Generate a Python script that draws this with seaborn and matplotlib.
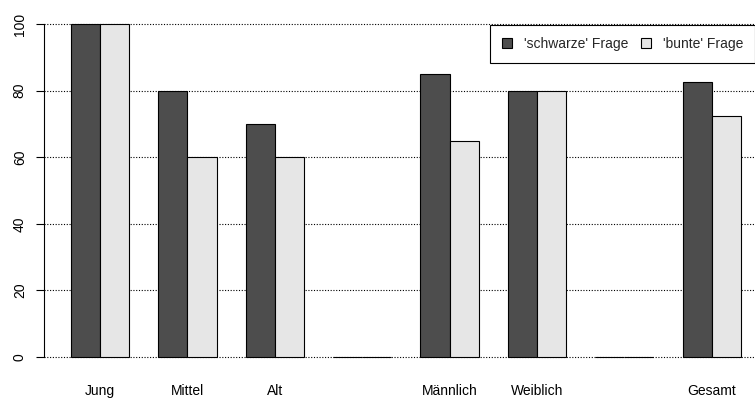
import matplotlib
matplotlib.use("Agg")
import matplotlib.pyplot as plt
import seaborn as sns
import pandas as pd
from matplotlib.patches import Patch

categories = ["Jung", "Mittel", "Alt", "leer1", "Männlich", "Weiblich", "leer2", "Gesamt"]
tick_labels = ["Jung", "Mittel", "Alt", "", "Männlich", "Weiblich", "", "Gesamt"]
schwarze = [100, 80, 70, 0, 85, 80, 0, 82.5]
bunte = [100, 60, 60, 0, 65, 80, 0, 72.5]
series_names = ["'schwarze' Frage", "'bunte' Frage"]
y_ticks = [0, 20, 40, 60, 80, 100]

dark = "#4D4D4D"
light = "#E6E6E6"

df = pd.DataFrame({
    "cat": categories * 2,
    "val": schwarze + bunte,
    "series": [series_names[0]] * len(categories) + [series_names[1]] * len(categories),
})

sns.set_theme(style="white")
plt.rcParams["font.family"] = ["Liberation Sans", "DejaVu Sans"]

W, H = 755, 399
fig = plt.figure(figsize=(W / 100, H / 100), dpi=100)
x0, x1 = 44.2, 767.6
y0, y1 = 10.7, 370.3
ax = fig.add_axes([x0 / W, 1 - y1 / H, (x1 - x0) / W, (y1 - y0) / H])

sns.barplot(data=df, x="cat", y="val", hue="series", order=categories,
            hue_order=series_names, palette=[dark, light], width=2 / 3, gap=0,
            edgecolor="black", linewidth=0.8, legend=False, ax=ax, saturation=1,
            zorder=3)

ax.set_xlim(-0.639, 7.64)
ax.set_ylim(-4, 104)
ax.set_xlabel("")
ax.set_ylabel("")

ax.set_yticks(y_ticks)
ax.set_yticklabels([str(v) for v in y_ticks], rotation=90, va="center", fontsize=10)
ax.tick_params(axis="y", left=True, length=5.5, width=0.8, pad=7, colors="black")
ax.set_xticks(range(len(categories)))
ax.set_xticklabels(tick_labels, fontsize=10)
ax.tick_params(axis="x", bottom=False, length=0, pad=10, colors="black")

for s in ["top", "right", "bottom"]:
    ax.spines[s].set_visible(False)
ax.spines["left"].set_bounds(0, 100)
ax.spines["left"].set_color("black")
ax.spines["left"].set_linewidth(0.8)

for v in y_ticks:
    ax.axhline(v, color="black", linestyle=(0, (1, 1.5)), linewidth=0.8, zorder=1)

handles = [Patch(facecolor=dark, edgecolor="black", linewidth=0.8),
           Patch(facecolor=light, edgecolor="black", linewidth=0.8)]
leg = ax.legend(handles, series_names, ncol=2, loc="upper left",
                bbox_to_anchor=((490 - x0) / (x1 - x0), 1 - (25 - y0) / (y1 - y0)),
                borderaxespad=0, fancybox=False, framealpha=1, edgecolor="black",
                fontsize=10, handlelength=0.72, handleheight=0.72,
                handletextpad=0.86, columnspacing=0.93, borderpad=0.85)
leg.get_frame().set_linewidth(0.8)
leg.set_zorder(5)

fig.savefig("out.png", dpi=100)
